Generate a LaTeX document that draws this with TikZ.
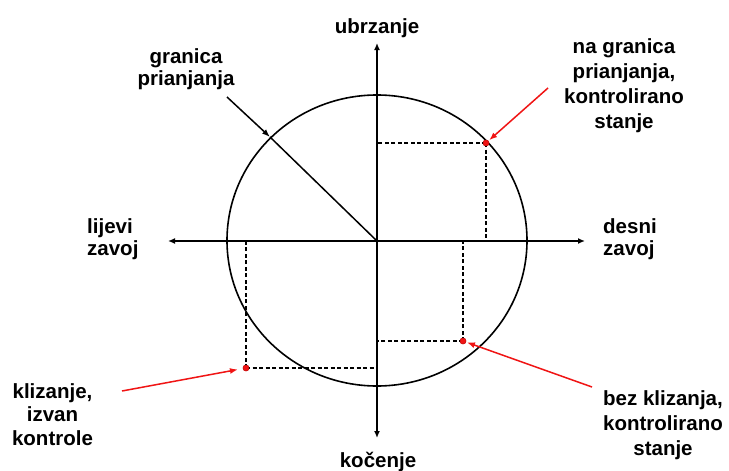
\documentclass[tikz,border=0pt]{standalone}
\usepackage{fontspec}
\setmainfont{Liberation Sans}
\usetikzlibrary{arrows.meta,shapes.geometric}
\newcommand{\mlines}[2][c]{\begin{tabular}[t]{@{}#1@{}}#2\end{tabular}}
\definecolor{arrred}{RGB}{240,20,20}
\begin{document}
\begin{tikzpicture}[x=1pt,y=-1pt,
  lbl/.style={font=\fontsize{20.5}{#1}\selectfont\bfseries, inner sep=0pt, anchor=base},
  lbl/.default=24,
  axis/.style={line width=1.4pt, {Latex[length=7pt,width=6pt]}-{Latex[length=7pt,width=6pt]}},
  guide/.style={line width=1.3pt, dash pattern=on 4pt off 2.5pt},
  dot/.style={circle, fill=arrred, draw=arrred!80!black, line width=0.4pt, minimum size=6pt, inner sep=0pt},
  redarrow/.style={draw=arrred, line width=1.5pt, -{Latex[length=8pt,width=6pt]}},
  blackarrow/.style={line width=1.5pt, -{Latex[length=8pt,width=6pt]}}
]
\useasboundingbox (0,0) rectangle (729,471);
\fill[white] (0,0) rectangle (729,471);

% circle of adhesion
\node[ellipse, draw, minimum width=300pt, minimum height=291pt, line width=1.6pt, inner sep=0pt] (circ) at (377,240.5) {};

% axes
\coordinate (O) at (377,241);
\coordinate (L) at (168,241);
\coordinate (R) at (585,241);
\coordinate (T) at (377,43);
\coordinate (B) at (377,438);
\draw[axis] (L) -- (R);
\draw[axis] (B) -- (T);

% radius to the limit
\coordinate (G) at (270,137);
\draw[line width=1.5pt] (O) -- (G);

% operating points
\node[dot] (p1) at (486,143) {};
\node[dot] (p2) at (463,341) {};
\node[dot] (p3) at (246,368) {};

\draw[guide] (p1.center) -- (p1.center |- O);
\draw[guide] (p1.center) -- (p1.center -| O);
\draw[guide] (p2.center) -- (p2.center |- O);
\draw[guide] (p2.center) -- (p2.center -| O);
\draw[guide] (p3.center) -- (p3.center |- O);
\draw[guide] (p3.center) -- (p3.center -| O);
\node[dot] at (p1) {};
\node[dot] at (p2) {};
\node[dot] at (p3) {};

% labels
\node[lbl] (ubr) at (377,33) {ubrzanje};
\node[lbl] (koc) at (378,467) {kočenje};
\node[lbl=22] (gran) at (186,63) {\mlines{granica\\prianjanja}};
\node[lbl=25] (nagr) at (624,53) {\mlines{na granica\\prianjanja,\\kontrolirano\\stanje}};
\node[lbl=22, anchor=base west] (lij) at (87,233) {\mlines[l]{lijevi\\zavoj}};
\node[lbl=22, anchor=base west] (des) at (603,233) {\mlines[l]{desni\\zavoj}};
\node[lbl=23.5] (kliz) at (52.5,398) {\mlines{klizanje,\\izvan\\kontrole}};
\node[lbl=25] (bez) at (663,405) {\mlines{bez klizanja,\\kontrolirano\\stanje}};

% annotation arrows
\coordinate (g0) at (227,97);
\draw[blackarrow] (g0) -- (G);
\coordinate (a1) at (548,88);
\coordinate (a2) at (592,387);
\coordinate (a3) at (122,391);
\draw[redarrow, shorten >=1pt] (a1) -- (p1);
\draw[redarrow, shorten >=1pt] (a2) -- (p2);
\draw[redarrow, shorten >=5pt] (a3) -- (p3);
\end{tikzpicture}
\end{document}
